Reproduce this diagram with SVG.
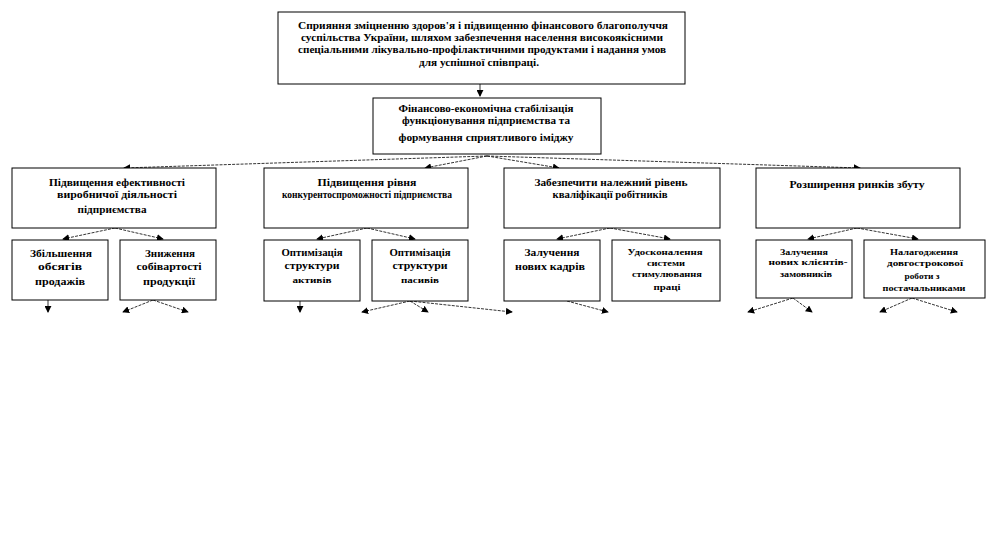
<svg xmlns="http://www.w3.org/2000/svg" width="987" height="540" viewBox="0 0 987 540">
<style>
.box{fill:#fff;stroke:#000;stroke-width:1}
text{font-family:"Liberation Serif","Times New Roman",serif;font-weight:bold;fill:#000;text-anchor:middle}
.t11{font-size:11px}
.t10{font-size:10px}
.t9{font-size:9px}
.c{fill:none;stroke:#000;stroke-width:0.8;stroke-dasharray:3,1.2}
.s{fill:none;stroke:#000;stroke-width:0.8}
</style>
<defs>
<marker id="ah" viewBox="0 0 8 8" refX="7" refY="4" markerWidth="7" markerHeight="7" markerUnits="userSpaceOnUse" orient="auto">
<path d="M0,0 L8,4 L0,8 z" fill="#000"/>
</marker>
</defs>
<rect width="987" height="540" fill="#fff"/>

<g id="connectors">
<line class="s" x1="480" y1="84" x2="480" y2="96" marker-end="url(#ah)"/>
<line class="c" x1="487" y1="156" x2="124" y2="168" marker-end="url(#ah)"/>
<line class="c" x1="487" y1="156" x2="425" y2="168" marker-end="url(#ah)"/>
<line class="c" x1="487" y1="156" x2="559" y2="168" marker-end="url(#ah)"/>
<line class="c" x1="487" y1="156" x2="860" y2="168" marker-end="url(#ah)"/>
<line class="c" x1="115" y1="228" x2="63" y2="239" marker-end="url(#ah)"/>
<line class="c" x1="115" y1="228" x2="163" y2="239" marker-end="url(#ah)"/>
<line class="c" x1="367" y1="228" x2="317" y2="239" marker-end="url(#ah)"/>
<line class="c" x1="367" y1="228" x2="415" y2="239" marker-end="url(#ah)"/>
<line class="c" x1="610" y1="228" x2="557" y2="239" marker-end="url(#ah)"/>
<line class="c" x1="610" y1="228" x2="670" y2="239" marker-end="url(#ah)"/>
<line class="c" x1="857" y1="228" x2="808" y2="239" marker-end="url(#ah)"/>
<line class="c" x1="857" y1="228" x2="918" y2="239" marker-end="url(#ah)"/>
<line class="s" x1="48" y1="300" x2="48" y2="312" marker-end="url(#ah)"/>
<line class="c" x1="153" y1="300" x2="123" y2="312" marker-end="url(#ah)"/>
<line class="c" x1="153" y1="300" x2="188" y2="312" marker-end="url(#ah)"/>
<line class="s" x1="300" y1="301" x2="300" y2="312" marker-end="url(#ah)"/>
<line class="c" x1="410" y1="301" x2="362" y2="312" marker-end="url(#ah)"/>
<line class="c" x1="410" y1="301" x2="428" y2="312" marker-end="url(#ah)"/>
<line class="c" x1="410" y1="301" x2="512" y2="312" marker-end="url(#ah)"/>
<line class="c" x1="567" y1="301" x2="608" y2="312" marker-end="url(#ah)"/>
<line class="c" x1="793" y1="298" x2="748" y2="312" marker-end="url(#ah)"/>
<line class="c" x1="793" y1="298" x2="812" y2="312" marker-end="url(#ah)"/>
<line class="c" x1="912" y1="298" x2="880" y2="312" marker-end="url(#ah)"/>
<line class="c" x1="912" y1="298" x2="957" y2="312" marker-end="url(#ah)"/>
</g>

<g id="goal">
<rect class="box" x="278" y="12" width="407" height="72"/>
<text class="t11" x="483" y="29" textLength="370" lengthAdjust="spacingAndGlyphs">Сприяння зміцненню  здоров'я і підвищенню фінансового  благополуччя</text>
<text class="t11" x="482" y="41" textLength="362" lengthAdjust="spacingAndGlyphs">суспільства України, шляхом  забезпечення  населення  високоякісними</text>
<text class="t11" x="482" y="53" textLength="368" lengthAdjust="spacingAndGlyphs">спеціальними  лікувально-профілактичними  продуктами і надання  умов</text>
<text class="t11" x="479" y="66" textLength="120" lengthAdjust="spacingAndGlyphs">для успішної співпраці.</text>
</g>

<g id="strategy">
<rect class="box" x="373" y="98" width="228" height="56"/>
<text class="t11" x="486" y="112" textLength="175" lengthAdjust="spacingAndGlyphs">Фінансово-економічна  стабілізація</text>
<text class="t11" x="486" y="124" textLength="168" lengthAdjust="spacingAndGlyphs">функціонування підприємства  та</text>
<text class="t11" x="486" y="141" textLength="175" lengthAdjust="spacingAndGlyphs">формування сприятливого іміджу</text>
</g>

<g id="g1">
<rect class="box" x="12" y="168" width="204" height="60"/>
<text class="t11" x="117" y="186" textLength="136" lengthAdjust="spacingAndGlyphs">Підвищення ефективності</text>
<text class="t11" x="117" y="198" textLength="120" lengthAdjust="spacingAndGlyphs">виробничої діяльності</text>
<text class="t11" x="112" y="213" textLength="69" lengthAdjust="spacingAndGlyphs">підприємства</text>
</g>

<g id="g2">
<rect class="box" x="264" y="168" width="204" height="60"/>
<text class="t11" x="367" y="186" textLength="99" lengthAdjust="spacingAndGlyphs">Підвищення рівня</text>
<text class="t11" x="367" y="198" textLength="170" lengthAdjust="spacingAndGlyphs">конкурентоспроможності  підприємства</text>
</g>

<g id="g3">
<rect class="box" x="504" y="168" width="216" height="60"/>
<text class="t11" x="611" y="186" textLength="153" lengthAdjust="spacingAndGlyphs">Забезпечити  належний  рівень</text>
<text class="t11" x="610" y="198" textLength="115" lengthAdjust="spacingAndGlyphs">кваліфікації робітників</text>
</g>

<g id="g4">
<rect class="box" x="756" y="168" width="204" height="60"/>
<text class="t11" x="857" y="188" textLength="135" lengthAdjust="spacingAndGlyphs">Розширення ринків збуту</text>
</g>

<g id="a1">
<rect class="box" x="12" y="240" width="96" height="60"/>
<text class="t10" x="61" y="257" textLength="62" lengthAdjust="spacingAndGlyphs">Збільшення</text>
<text class="t10" x="60" y="270" textLength="44" lengthAdjust="spacingAndGlyphs">обсягів</text>
<text class="t10" x="60" y="285" textLength="50" lengthAdjust="spacingAndGlyphs">продажів</text>
</g>

<g id="a2">
<rect class="box" x="120" y="240" width="96" height="60"/>
<text class="t10" x="170" y="257" textLength="50" lengthAdjust="spacingAndGlyphs">Зниження</text>
<text class="t10" x="169" y="270" textLength="65" lengthAdjust="spacingAndGlyphs">собівартості</text>
<text class="t10" x="169" y="285" textLength="52" lengthAdjust="spacingAndGlyphs">продукції</text>
</g>

<g id="b1">
<rect class="box" x="264" y="240" width="96" height="61"/>
<text class="t10" x="312" y="256" textLength="61" lengthAdjust="spacingAndGlyphs">Оптимізація</text>
<text class="t10" x="312" y="269" textLength="55" lengthAdjust="spacingAndGlyphs">структури</text>
<text class="t9" x="312" y="283" textLength="39" lengthAdjust="spacingAndGlyphs">активів</text>
</g>

<g id="b2">
<rect class="box" x="372" y="240" width="96" height="61"/>
<text class="t10" x="420" y="256" textLength="61" lengthAdjust="spacingAndGlyphs">Оптимізація</text>
<text class="t10" x="420" y="269" textLength="55" lengthAdjust="spacingAndGlyphs">структури</text>
<text class="t9" x="420" y="283" textLength="38" lengthAdjust="spacingAndGlyphs">пасивів</text>
</g>

<g id="c1">
<rect class="box" x="504" y="240" width="96" height="61"/>
<text class="t10" x="552" y="256" textLength="55" lengthAdjust="spacingAndGlyphs">Залучення</text>
<text class="t10" x="550" y="270" textLength="70" lengthAdjust="spacingAndGlyphs">нових  кадрів</text>
</g>

<g id="c2">
<rect class="box" x="612" y="240" width="108" height="61"/>
<text class="t9" x="665" y="255" textLength="75" lengthAdjust="spacingAndGlyphs">Удосконалення</text>
<text class="t9" x="666" y="266" textLength="38" lengthAdjust="spacingAndGlyphs">системи</text>
<text class="t9" x="667" y="277" textLength="70" lengthAdjust="spacingAndGlyphs">стимулювання</text>
<text class="t9" x="667" y="290" textLength="27" lengthAdjust="spacingAndGlyphs">праці</text>
</g>

<g id="d1">
<rect class="box" x="756" y="240" width="96" height="58"/>
<text class="t9" x="804" y="255" textLength="48" lengthAdjust="spacingAndGlyphs">Залучення</text>
<text class="t9" x="808" y="265" textLength="79" lengthAdjust="spacingAndGlyphs">нових клієнтів-</text>
<text class="t9" x="806" y="277" textLength="52" lengthAdjust="spacingAndGlyphs">замовників</text>
</g>

<g id="d2">
<rect class="box" x="864" y="240" width="121" height="58"/>
<text class="t9" x="924" y="255" textLength="68" lengthAdjust="spacingAndGlyphs">Налагодження</text>
<text class="t9" x="925" y="266" textLength="76" lengthAdjust="spacingAndGlyphs">довгострокової</text>
<text class="t9" x="922" y="279" textLength="35" lengthAdjust="spacingAndGlyphs">роботи з</text>
<text class="t9" x="924" y="291" textLength="83" lengthAdjust="spacingAndGlyphs">постачальниками</text>
</g>
</svg>
